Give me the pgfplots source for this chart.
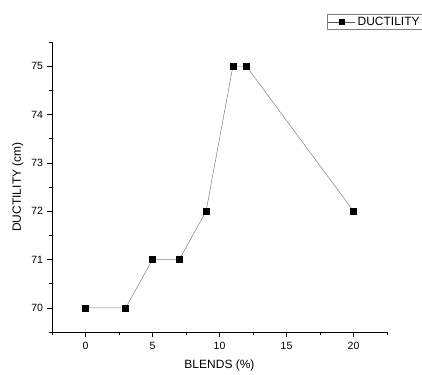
\documentclass[border=0pt]{standalone}
\usepackage{pgfplots}
\pgfplotsset{compat=1.18}
\usepackage{fontspec}
\setmainfont{Liberation Sans}
\begin{document}
\begin{tikzpicture}
\begin{axis}[
  name=ax,
  scale only axis,
  width=335pt, height=290pt,
  xmin=-2.5, xmax=22.5, ymin=69.5, ymax=75.5,
  axis x line*=bottom, axis y line*=left,
  axis line style={line width=0.8pt, -},
  xtick={0,5,10,15,20}, ytick={70,71,72,73,74,75},
  minor xtick={-2.5,2.5,7.5,12.5,17.5,22.5},
  minor ytick={69.5,70.5,71.5,72.5,73.5,74.5,75.5},
  tick align=outside,
  major tick length=4.5pt, minor tick length=2.5pt,
  tick style={black, line width=0.6pt},
  /pgf/number format/assume math mode=true,
  ticklabel style={font=\fontsize{10.5}{12}\selectfont},
  xticklabel style={yshift=-2pt},
  yticklabel style={xshift=-1pt},
  xlabel={BLENDS (\%)}, ylabel={DUCTILITY (cm)},
  label style={font=\fontsize{12}{14}\selectfont},
  xlabel style={yshift=-3pt},
  ylabel style={yshift=1pt},
  legend style={at={(rel axis cs:1,1)}, anchor=north west, xshift=-60pt, yshift=28pt,
    draw=gray, font=\fontsize{12}{13}\selectfont, inner sep=0.8pt, row sep=0pt,
    legend cell align=left},
  legend image code/.code={\draw[gray!70!black,line width=0.6pt] (-0.05cm,0cm) -- (0.9cm,0cm);
    \fill[black] (0.42cm,0cm) ++(-2.2pt,-2.2pt) rectangle ++(4.4pt,4.4pt);},
]
\addplot[gray, line width=0.5pt, mark=square*, mark size=3pt, mark options={black, fill=black}]
  coordinates {(0,70) (3,70) (5,71) (7,71) (9,72) (11,75) (12,75) (20,72)};
\addlegendentry{DUCTILITY}
\end{axis}
\pgfresetboundingbox
\path ([shift={(-52pt,-42pt)}]ax.south west) rectangle ([shift={(35pt,42pt)}]ax.north east);
\end{tikzpicture}
\end{document}
